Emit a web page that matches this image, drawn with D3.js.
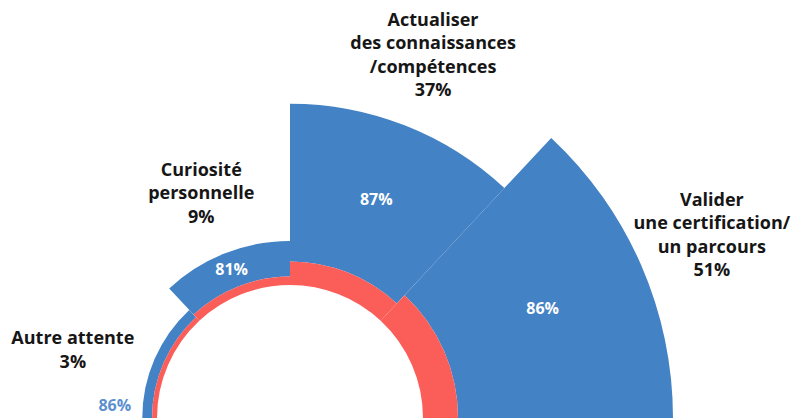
<!DOCTYPE html>
<html lang="fr">
<head>
    <meta charset="UTF-8">
    <title>Attentes de la formation</title>
    <script src="https://d3js.org/d3.v7.min.js"></script>
    <style>
        body { margin: 0; background: #fff; }
        text { font-family: "Open Sans", sans-serif; }
    </style>
</head>
<body>
    <svg width="811" height="418"></svg>

    <script>
        // Data: share of respondents per expectation, and share satisfied (blue)
        const categories = [
            ["Actualiser", "des connaissances", "/compétences"],
            ["Valider", "une certification/", "un parcours"],
            ["Autre attente"],
            ["Curiosité", "personnelle"]
        ];
        const shares = [37, 51, 3, 9];
        const satisfied = [87, 86, 86, 81];
        // sector limits, degrees clockwise from 12 o'clock
        const sectorStart = [0, 43, -90, -43];
        const sectorEnd = [43, 90, -43, 0];

        const cx = 290, cy = 418;

        const svg = d3.select("svg");
        const g = svg.append("g").attr("transform", `translate(${cx},${cy})`);

        const rScale = d3.scaleLinear()
            .domain([0, d3.max(shares)])
            .range([133, 383]);

        const rad = d => d * Math.PI / 180;
        const polar = (a, r) => `translate(${r * Math.sin(a)},${-r * Math.cos(a)})`;

        const data = categories.map((c, i) => ({
            lines: c,
            share: shares[i],
            sat: satisfied[i],
            a0: rad(sectorStart[i]),
            a1: rad(sectorEnd[i])
        }));

        // red = not satisfied part, kept a little visible on thin sectors
        const redVal = d => Math.max(d.share * (100 - d.sat) / 100, 1);

        const redArc = d3.arc()
            .innerRadius(rScale(0))
            .outerRadius(d => rScale(redVal(d)))
            .startAngle(d => d.a0)
            .endAngle(d => d.a1);

        const blueArc = d3.arc()
            .innerRadius(d => rScale(redVal(d)))
            .outerRadius(d => rScale(d.share))
            .startAngle(d => d.a0)
            .endAngle(d => d.a1);

        g.selectAll("path.blue")
            .data(data)
            .join("path")
            .attr("class", "blue")
            .attr("fill", "#4382c5")
            .attr("d", blueArc);

        g.selectAll("path.red")
            .data(data)
            .join("path")
            .attr("class", "red")
            .attr("fill", "#fb5d58")
            .attr("d", redArc);

        // satisfied % labels: inside the blue band, or outside when too thin
        g.selectAll("text.val")
            .data(data)
            .join("text")
            .attr("class", "val")
            .attr("text-anchor", "middle")
            .attr("dy", "0.35em")
            .attr("font-size", 16)
            .attr("font-weight", 700)
            .attr("fill", d => d.share < 5 ? "#5b8fd0" : "#fff")
            .attr("transform", d => {
                if (d.share >= 5) return `translate(${blueArc.centroid(d)})`;
                return polar(d.a0 + (d.a1 - d.a0) * 0.09, rScale(d.share) + 28);
            })
            .text(d => d.sat + "%");

        // category labels
        const lineH = 23.5;
        const labelPad = [76, 77, 80, 65];
        const labelTurn = [0, 0, -6, 0];
        const cat = g.selectAll("text.cat")
            .data(data)
            .join("text")
            .attr("class", "cat")
            .attr("text-anchor", "middle")
            .attr("font-size", 18)
            .attr("font-weight", 700)
            .attr("fill", "#161616")
            .attr("transform", (d, i) =>
                polar((d.a0 + d.a1) / 2 + rad(labelTurn[i]), rScale(d.share) + labelPad[i]));

        cat.each(function (d) {
            const lines = d.lines.concat([d.share + "%"]);
            const t = d3.select(this);
            lines.forEach((l, j) => {
                t.append("tspan")
                    .attr("x", 0)
                    .attr("y", (j - (lines.length - 1) / 2) * lineH)
                    .attr("dy", "0.35em")
                    .text(l);
            });
        });
    </script>
</body>
</html>
